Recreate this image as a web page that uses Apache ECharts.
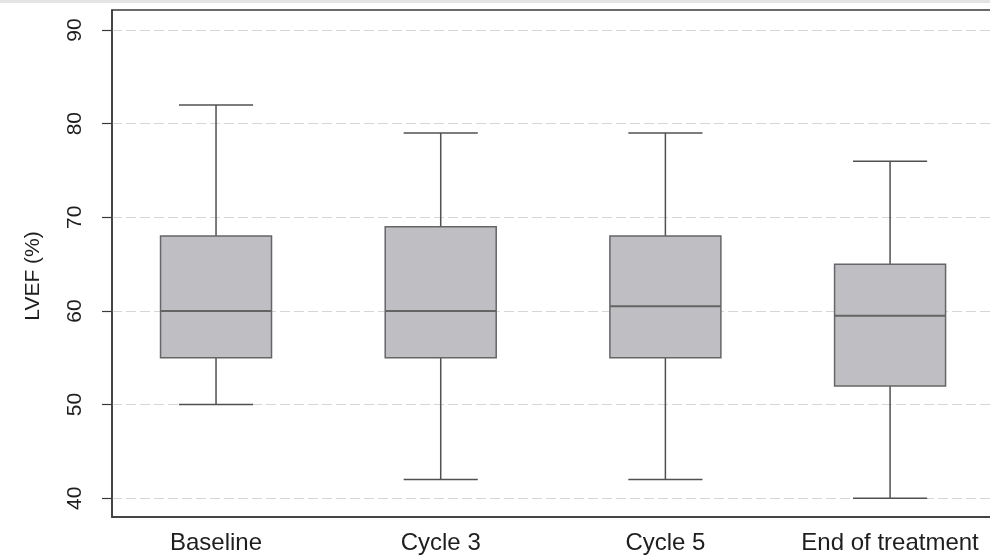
<!DOCTYPE html>
<html>
<head>
<meta charset="utf-8">
<title>LVEF by visit</title>
<script src="https://cdn.jsdelivr.net/npm/echarts@6/dist/echarts.min.js"></script>
<style>
  html, body { margin: 0; padding: 0; background: #ffffff; overflow: hidden; }
  #chart { width: 990px; height: 556px; }
</style>
</head>
<body>
<div id="chart"></div>
<script>
// Visits along the horizontal axis
const categories = ['Baseline', 'Cycle 3', 'Cycle 5', 'End of treatment'];

// Five-number summaries of LVEF (%) per visit
const lowerWhisker = [50, 42, 42, 40];
const q1 = [55, 55, 55, 52];
const median = [60, 60, 60.5, 59.5];
const q3 = [68, 69, 68, 65];
const upperWhisker = [82, 79, 79, 76];

// Value-axis tick labels
const yTicks = [40, 50, 60, 70, 80, 90];

const seriesData = categories.map((c, i) => [i + 1, lowerWhisker[i], q1[i], median[i], q3[i], upperWhisker[i]]);

const BOX_W = 0.494;   // box width in category units
const CAP_W = 0.33;    // whisker cap width in category units
const LINE = '#505050';
const FONT = 'Liberation Sans, Arial, sans-serif';

function renderBox(params, api) {
  const x = api.value(0);
  const lo = api.coord([x, api.value(1)]);
  const b1 = api.coord([x, api.value(2)]);
  const md = api.coord([x, api.value(3)]);
  const b3 = api.coord([x, api.value(4)]);
  const hi = api.coord([x, api.value(5)]);
  const unit = api.size([1, 0])[0];
  const hw = unit * BOX_W / 2;
  const cw = unit * CAP_W / 2;
  const cx = lo[0];
  const lineStyle = { stroke: LINE, lineWidth: 1.5, fill: null };
  return {
    type: 'group',
    children: [
      { type: 'line', shape: { x1: cx, y1: hi[1], x2: cx, y2: b3[1] }, style: lineStyle },
      { type: 'line', shape: { x1: cx, y1: b1[1], x2: cx, y2: lo[1] }, style: lineStyle },
      { type: 'line', shape: { x1: cx - cw, y1: hi[1], x2: cx + cw, y2: hi[1] }, style: lineStyle },
      { type: 'line', shape: { x1: cx - cw, y1: lo[1], x2: cx + cw, y2: lo[1] }, style: lineStyle },
      { type: 'rect', shape: { x: cx - hw, y: b3[1], width: hw * 2, height: b1[1] - b3[1] },
        style: { fill: '#bfbfc3', stroke: '#666666', lineWidth: 1.5 } },
      { type: 'line', shape: { x1: cx - hw, y1: md[1], x2: cx + hw, y2: md[1] },
        style: { stroke: '#646464', lineWidth: 2 } }
    ]
  };
}

const chart = echarts.init(document.getElementById('chart'), null, { renderer: 'canvas' });
chart.setOption({
  animation: false,
  backgroundColor: '#ffffff',
  textStyle: { fontFamily: FONT },
  graphic: [
    { type: 'rect', left: 0, top: 0, shape: { width: 990, height: 3 }, style: { fill: '#e4e4e4' } }
  ],
  grid: {
    left: 112, top: 10, width: 883, height: 507,
    containLabel: false, outerBoundsMode: 'none',
    show: true, borderColor: '#3a3a3a', borderWidth: 1.5, backgroundColor: 'transparent'
  },
  xAxis: {
    type: 'value',
    min: 0.537, max: 4.467,
    axisLine: { show: true, onZero: false, lineStyle: { color: '#3a3a3a', width: 1.5 } },
    axisTick: { show: false },
    splitLine: { show: false },
    axisLabel: {
      customValues: [1, 2, 3, 4],
      formatter: v => categories[Math.round(v) - 1] || '',
      fontSize: 24, color: '#1e1e1e', margin: 14,
      fontFamily: FONT
    }
  },
  yAxis: {
    type: 'value',
    min: 38, max: 92.14,
    name: 'LVEF (%)',
    nameLocation: 'middle',
    nameGap: 68,
    nameTextStyle: { fontSize: 21, color: '#1e1e1e', padding: [0, 25, 0, 0], fontFamily: FONT },
    axisLine: { show: true, lineStyle: { color: '#3a3a3a', width: 1.5 } },
    axisTick: { show: true, length: 10, customValues: yTicks, lineStyle: { color: '#3a3a3a', width: 1.2 } },
    axisLabel: {
      customValues: yTicks, rotate: 90, fontSize: 21, color: '#1e1e1e', margin: 26,
      fontFamily: FONT
    },
    splitLine: {
      show: true,
      lineStyle: { color: '#d6d6d6', type: [10, 4], width: 1 }
    }
  },
  series: [{
    type: 'custom',
    renderItem: renderBox,
    encode: { x: 0, y: [1, 2, 3, 4, 5] },
    data: seriesData,
    z: 3
  }]
});
</script>
</body>
</html>
